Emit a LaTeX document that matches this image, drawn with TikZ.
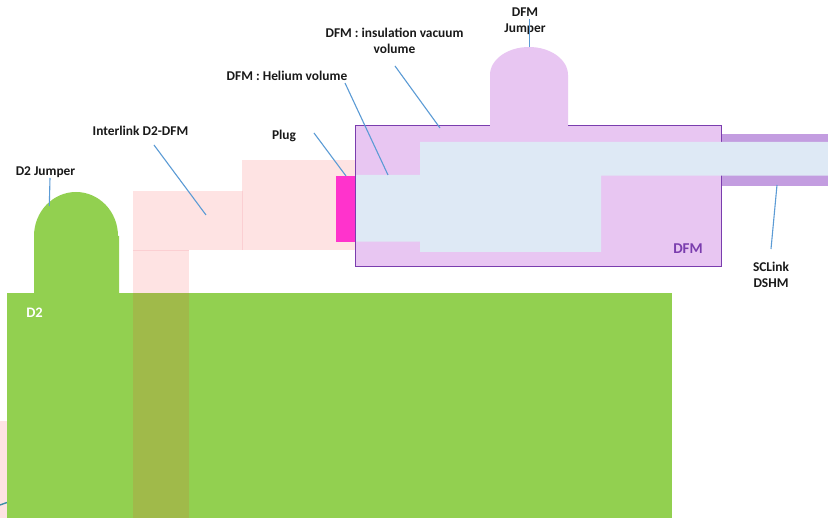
\documentclass[tikz,border=0pt]{standalone}
\usepackage{fontspec}
\setmainfont{Carlito}
\definecolor{dgreen}{HTML}{92D050}
\definecolor{olive}{HTML}{A0BA4A}
\definecolor{lpink}{HTML}{FEE3E3}
\definecolor{pinkedge}{HTML}{FBCFD2}
\definecolor{lilac}{HTML}{E8C6F2}
\definecolor{lilacdark}{HTML}{C39DE0}
\definecolor{dfmedge}{HTML}{7A3DAE}
\definecolor{helium}{HTML}{DEE9F5}
\definecolor{plugc}{HTML}{FF33CC}
\definecolor{leader}{HTML}{5B9BD5}
\definecolor{stub}{HTML}{3F8FA8}
\tikzset{
  lab/.style={font=\bfseries\fontsize{13.4}{16}\selectfont, inner sep=0pt, align=center, text=black!90},
  leaderline/.style={draw=leader, line width=1.1pt},
  pinkbox/.style={fill=lpink},
  pinkline/.style={draw=pinkedge, line width=0.6pt}
}
\begin{document}
\begin{tikzpicture}[x=1pt,y=-1pt]
\useasboundingbox (0,0) rectangle (828,518);
\fill[white] (0,0) rectangle (828,518);
% pink parts
\fill[pinkbox] (0,421) rectangle (7,518);
\draw[draw=stub, line width=1.4pt] (0,505) -- (7,502.5);
\fill[pinkbox] (133,191) rectangle (243,250.5);
\fill[pinkbox] (242,160) rectangle (356,250.5);
\fill[pinkbox] (133,250.5) rectangle (189,293);
\draw[pinkline] (242.5,191) -- (242.5,250.5);
\draw[pinkline] (133,250.5) -- (189,250.5);
% D2
\fill[dgreen] (34,236) arc[start angle=180,end angle=360,x radius=42,y radius=44] -- (119,236) -- (119,293) -- (34,293) -- cycle;
\fill[dgreen] (7,293) rectangle (672,518);
\fill[olive] (133,293) rectangle (189,518);
% DFM
\fill[lilacdark] (721,134) rectangle (828,186);
\fill[lilac] (490,75) arc[start angle=180,end angle=360,x radius=39,y radius=28] -- (568,126) -- (490,126) -- cycle;
\fill[plugc] (336,176) rectangle (355,242);
\filldraw[fill=lilac, draw=dfmedge, line width=1.1pt] (355.5,125.5) rectangle (721.5,266.5);
\fill[lilac] (490.4,124) rectangle (567.6,127);
\fill[helium] (356,175) -- (420,175) -- (420,142) -- (828,142) -- (828,175.7) -- (601,175.7) -- (601,252) -- (420,252) -- (420,241.7) -- (356,241.7) -- cycle;
% text
\node[lab] (d2j) at (45.5,172) {D2 Jumper};
\node[lab] (inter) at (140.5,131) {Interlink D2-DFM};
\node[lab] (plug) at (284,136) {Plug};
\node[lab] (he) at (287,76) {DFM : Helium volume};
\node[lab] (ins) at (394.5,41) {DFM : insulation vacuum\\volume};
\node[lab] (jump) at (525,21) {DFM\\Jumper};
\node[lab] (sc) at (771,275) {SCLink\\DSHM};
\node[font=\bfseries\fontsize{15}{16}\selectfont, text=dfmedge, inner sep=0pt] (dfm) at (688,249) {DFM};
\node[font=\bfseries\fontsize{14.5}{16}\selectfont, text=white, inner sep=0pt] (d2) at (34.5,312.5) {D2};
% leader ends
\coordinate (d2ja) at (50,178);   \coordinate (d2jb) at (49.3,206);
\coordinate (intera) at (154,145);\coordinate (interb) at (206,215);
\coordinate (pluga) at (314,133); \coordinate (plugb) at (346,176);
\coordinate (hea) at (345,83);    \coordinate (heb) at (388,175);
\coordinate (insa) at (395,66);   \coordinate (insb) at (440,128);
\coordinate (jumpa) at (529.3,19);\coordinate (jumpb) at (529.3,47);
\coordinate (sca) at (777,185);   \coordinate (scb) at (771,249);
\draw[leaderline] (d2ja) -- (d2jb);
\draw[leaderline] (intera) -- (interb);
\draw[leaderline] (pluga) -- (plugb);
\draw[leaderline] (hea) -- (heb);
\draw[leaderline] (insa) -- (insb);
\draw[leaderline] (jumpa) -- (jumpb);
\draw[leaderline] (sca) -- (scb);
\end{tikzpicture}
\end{document}
